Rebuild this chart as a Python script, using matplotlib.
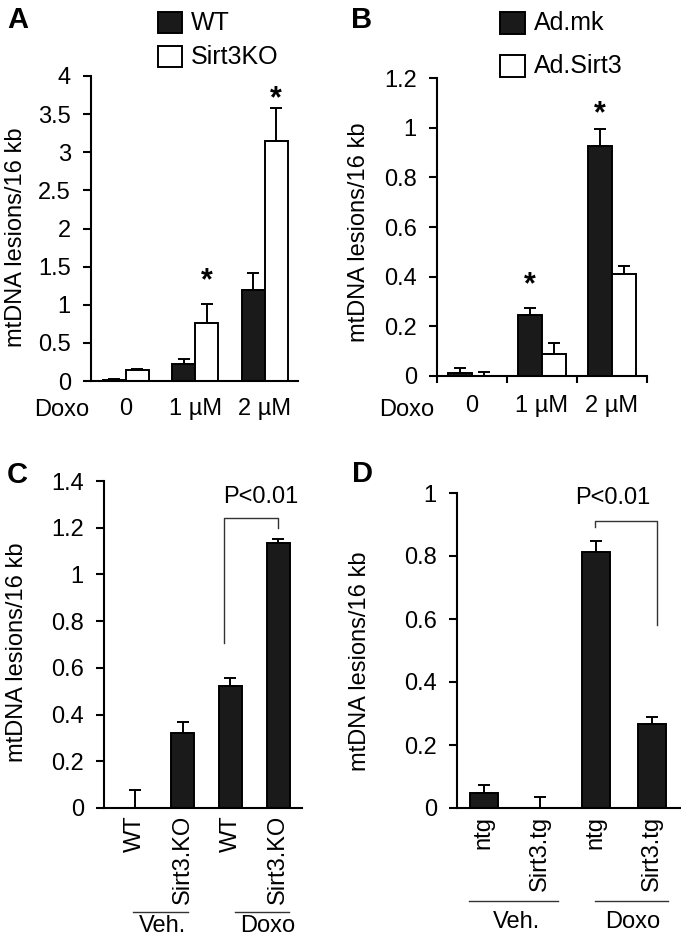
import matplotlib
matplotlib.use('Agg')
import matplotlib.pyplot as plt
import matplotlib.patches as patches
from matplotlib.lines import Line2D
import numpy as np

plt.rcParams['font.family'] = ['Liberation Sans', 'DejaVu Sans']

W, H = 681, 944

# ---- data ----
# panel A: WT vs Sirt3KO
dose_labels = ['0', '1 \u00b5M', '2 \u00b5M']
wt_vals = [0.01, 0.22, 1.20]
wt_err = [0.02, 0.07, 0.22]
ko_vals = [0.14, 0.76, 3.15]
ko_err = [0.015, 0.25, 0.43]
a_star_y = [1.31, 3.70]          # asterisks over Sirt3KO, 1 and 2 uM

# panel B: Ad.mk vs Ad.Sirt3
mk_vals = [0.011, 0.245, 0.927]
mk_err = [0.022, 0.028, 0.068]
s3_vals = [0.002, 0.089, 0.411]
s3_err = [0.013, 0.045, 0.03]
b_star_y = [0.365, 1.056]        # asterisks over Ad.mk, 1 and 2 uM

# panel C
c_labels = ['WT', 'Sirt3.KO', 'WT', 'Sirt3.KO']
c_vals = [0.0, 0.32, 0.522, 1.133]
c_err = [0.077, 0.047, 0.033, 0.019]

# panel D
d_labels = ['ntg', 'Sirt3.tg', 'ntg', 'Sirt3.tg']
d_vals = [0.048, 0.0, 0.813, 0.267]
d_err = [0.024, 0.034, 0.034, 0.023]

FS = 17


def fx(px):
    return px / W


def fy(py):
    return 1 - py / H


def add_ax(left, top, right, bottom):
    return fig.add_axes([fx(left), fy(bottom), (right - left) / W, (bottom - top) / H])


def style(ax):
    for s in ['top', 'right']:
        ax.spines[s].set_visible(False)
    for s in ['left', 'bottom']:
        ax.spines[s].set_linewidth(1.5)
    ax.tick_params(axis='y', direction='out', length=5.5, width=1.5, labelsize=FS, pad=9)


fig = plt.figure(figsize=(W / 100, H / 100), dpi=100)

ekw = dict(lw=1.4, capsize=4.5, capthick=1.4, ecolor='black')

# ---- panel A ----
axA = add_ax(91, 76, 298, 381)
style(axA)
x = np.arange(len(dose_labels))
bw = 0.33
axA.bar(x - bw / 2, wt_vals, bw, color='#1a1a1a', edgecolor='black', lw=1.4)
axA.bar(x + bw / 2, ko_vals, bw, color='white', edgecolor='black', lw=1.4)
axA.errorbar(x - bw / 2, wt_vals, yerr=[np.zeros(3), wt_err], fmt='none', **ekw)
axA.errorbar(x + bw / 2, ko_vals, yerr=[np.zeros(3), ko_err], fmt='none', **ekw)
axA.set_xlim(-0.5, 2.48)
axA.set_ylim(0, 4)
axA.set_yticks([0, 0.5, 1, 1.5, 2, 2.5, 3, 3.5, 4])
axA.set_yticklabels(['0', '0.5', '1', '1.5', '2', '2.5', '3', '3.5', '4'])
axA.set_xticks(x)
axA.set_xticklabels(dose_labels)
axA.tick_params(axis='x', length=0, labelsize=FS, pad=12)
for i, sy in zip([1, 2], a_star_y):
    axA.text(x[i] + bw / 2, sy, '*', ha='center', va='center', fontsize=22, fontweight='bold')

# ---- panel B ----
axB = add_ax(437, 78, 647, 376)
style(axB)
bw = 0.343
axB.bar(x - bw / 2, mk_vals, bw, color='#1a1a1a', edgecolor='black', lw=1.4)
axB.bar(x + bw / 2, s3_vals, bw, color='white', edgecolor='black', lw=1.4)
axB.errorbar(x - bw / 2, mk_vals, yerr=[np.zeros(3), mk_err], fmt='none', **ekw)
axB.errorbar(x + bw / 2, s3_vals, yerr=[np.zeros(3), s3_err], fmt='none', **ekw)
axB.set_xlim(-0.5, 2.5)
axB.set_ylim(0, 1.2)
axB.set_yticks([0, 0.2, 0.4, 0.6, 0.8, 1, 1.2])
axB.set_yticklabels(['0', '0.2', '0.4', '0.6', '0.8', '1', '1.2'])
axB.set_xticks([-0.5, 0.5, 1.5, 2.5])
axB.set_xticklabels([])
axB.set_xticks(x, minor=True)
axB.set_xticklabels(dose_labels, minor=True)
axB.tick_params(axis='x', which='major', length=5, width=1.5)
axB.tick_params(axis='x', which='minor', length=0, labelsize=FS, pad=14)
for i, sy in zip([1, 2], b_star_y):
    axB.text(x[i] - bw / 2, sy, '*', ha='center', va='center', fontsize=22, fontweight='bold')

# ---- panel C ----
axC = add_ax(104, 481, 302, 808)
style(axC)
xc = np.arange(len(c_labels))
axC.bar(xc, c_vals, 0.48, color='#1a1a1a', edgecolor='black', lw=1.4)
axC.errorbar(xc, c_vals, yerr=[np.zeros(4), c_err], fmt='none', **ekw)
axC.set_xlim(-0.65, 3.5)
axC.set_ylim(0, 1.4)
axC.set_yticks([0, 0.2, 0.4, 0.6, 0.8, 1, 1.2, 1.4])
axC.set_yticklabels(['0', '0.2', '0.4', '0.6', '0.8', '1', '1.2', '1.4'])
axC.set_xticks(xc)
axC.set_xticklabels(c_labels, rotation=90, va='top')
axC.tick_params(axis='x', length=0, labelsize=FS, pad=5)
axC.plot([1.87, 1.87, 3.0, 3.0], [0.705, 1.24, 1.24, 1.20], color='#333333', lw=1.0)
axC.text(2.64, 1.33, 'P<0.01', ha='center', va='center', fontsize=FS)

# ---- panel D ----
axD = add_ax(457, 493, 681, 808)
style(axD)
xd = np.arange(len(d_labels))
axD.bar(xd, d_vals, 0.5, color='#1a1a1a', edgecolor='black', lw=1.4)
axD.errorbar(xd, d_vals, yerr=[np.zeros(4), d_err], fmt='none', **ekw)
axD.set_xlim(-0.48, 3.52)
axD.set_ylim(0, 1)
axD.set_yticks([0, 0.2, 0.4, 0.6, 0.8, 1])
axD.set_yticklabels(['0', '0.2', '0.4', '0.6', '0.8', '1'])
axD.set_xticks(xd)
axD.set_xticklabels(d_labels, rotation=90, va='top')
axD.tick_params(axis='x', length=0, labelsize=FS, pad=6)
axD.plot([1.98, 1.98, 3.1, 3.1], [0.892, 0.911, 0.911, 0.58], color='#333333', lw=1.0)
axD.text(2.3, 0.984, 'P<0.01', ha='center', va='center', fontsize=FS)

# ---- figure-level text: y labels, panel letters, legends, group lines ----
ylab = 'mtDNA lesions/16 kb'
for (px, py) in [(16, 237), (359, 232), (17, 652), (360, 661)]:
    fig.text(fx(px), fy(py), ylab, rotation=90, ha='center', va='center', fontsize=FS)

for lab, (px, py) in zip('ABCD', [(18, 20), (362, 20), (17, 475), (362, 474)]):
    fig.text(fx(px), fy(py), lab, ha='center', va='center', fontsize=21, fontweight='bold')

fig.text(fx(62), fy(410), 'Doxo', ha='center', va='center', fontsize=FS)
fig.text(fx(407), fy(410), 'Doxo', ha='center', va='center', fontsize=FS)


def legend_box(left, top, right, bottom, fc, label, tx):
    fig.add_artist(patches.Rectangle((fx(left), fy(bottom)), (right - left) / W, (bottom - top) / H,
                                     transform=fig.transFigure, facecolor=fc, edgecolor='black', lw=1.4))
    fig.text(fx(tx), fy((top + bottom) / 2), label, ha='left', va='center', fontsize=18)


legend_box(158, 12, 182, 33, '#1a1a1a', 'WT', 191)
legend_box(158, 46, 182, 67, 'white', 'Sirt3KO', 191)
legend_box(500, 12, 525, 34, '#1a1a1a', 'Ad.mk', 534)
legend_box(500, 55, 525, 77, 'white', 'Ad.Sirt3', 534)

groups = [((133, 188), 912, 163, 926, 'Veh.'), ((235, 289), 912, 268, 926, 'Doxo'),
          ((469, 558), 901, 517, 922, 'Veh.'), ((595, 668), 901, 633, 922, 'Doxo')]
for (x0, x1), ly, tx, ty, lab in groups:
    fig.add_artist(Line2D([fx(x0), fx(x1)], [fy(ly), fy(ly)], transform=fig.transFigure,
                          color='#333333', lw=1.0))
    fig.text(fx(tx), fy(ty), lab, ha='center', va='center', fontsize=FS)

fig.savefig('out.png', dpi=100)
